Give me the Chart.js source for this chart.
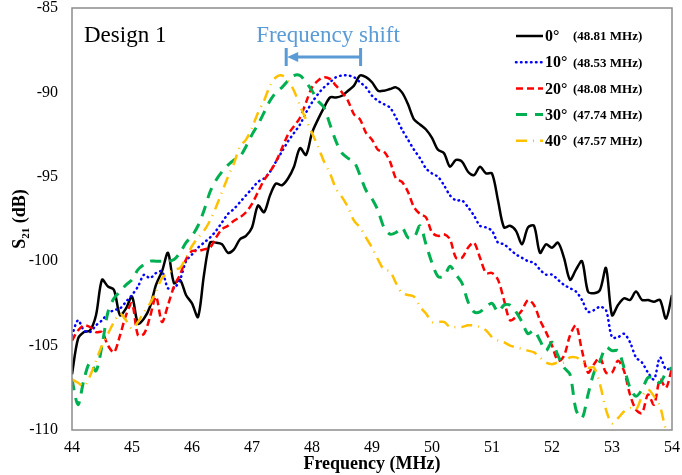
<!DOCTYPE html>
<html>
<head>
<meta charset="utf-8">
<script src="https://cdn.jsdelivr.net/npm/chart.js@4.4.0/dist/chart.umd.min.js"></script>
<style>
  html, body { margin: 0; padding: 0; background: #fff; }
</style>
</head>
<body>
<canvas id="chart" width="682" height="475"></canvas>
<script>
// frequency grid (MHz)
const freq = [
  44.0, 44.1, 44.2, 44.3, 44.4, 44.5, 44.6, 44.7, 44.8, 44.9,
  45.0, 45.1, 45.2, 45.3, 45.4, 45.5, 45.6, 45.7, 45.8, 45.9,
  46.0, 46.1, 46.2, 46.3, 46.4, 46.5, 46.6, 46.7, 46.8, 46.9,
  47.0, 47.1, 47.2, 47.3, 47.4, 47.5, 47.6, 47.7, 47.8, 47.9,
  48.0, 48.1, 48.2, 48.3, 48.4, 48.5, 48.6, 48.7, 48.8, 48.9,
  49.0, 49.1, 49.2, 49.3, 49.4, 49.5, 49.6, 49.7, 49.8, 49.9,
  50.0, 50.1, 50.2, 50.3, 50.4, 50.5, 50.6, 50.7, 50.8, 50.9,
  51.0, 51.1, 51.2, 51.3, 51.4, 51.5, 51.6, 51.7, 51.8, 51.9,
  52.0, 52.1, 52.2, 52.3, 52.4, 52.5, 52.6, 52.7, 52.8, 52.9,
  53.0, 53.1, 53.2, 53.3, 53.4, 53.5, 53.6, 53.7, 53.8, 53.9,
  54.0
];

// S21 (dB) per angle
const s21_0 = [
  -106.7,-104.6,-104.2,-104.1,-103.2,-101.1,-101.5,-101.7,-103.2,-102.8,
  -102.1,-103.7,-103.4,-102.7,-101.4,-100.6,-99.5,-101.3,-101.1,-102.0,
  -102.5,-103.3,-100.8,-98.9,-98.9,-99.0,-99.5,-99.3,-98.7,-98.5,
  -98.0,-96.7,-97.1,-96.1,-95.4,-95.5,-95.1,-94.4,-93.3,-93.7,
  -92.4,-91.6,-90.9,-90.3,-90.3,-90.2,-89.9,-89.6,-89.0,-89.1,
  -89.4,-89.9,-89.9,-89.8,-89.7,-90.0,-90.7,-91.6,-91.9,-92.2,
  -92.7,-93.4,-93.6,-94.4,-94.0,-94.1,-94.7,-94.9,-94.4,-94.8,
  -94.8,-96.4,-98.0,-97.9,-98.2,-99.0,-98.0,-97.9,-99.5,-99.0,
  -99.2,-98.9,-99.8,-101.1,-100.5,-100.0,-101.8,-101.9,-101.7,-100.4,
  -103.2,-102.6,-102.2,-102.3,-101.8,-102.3,-102.3,-102.4,-102.3,-103.4,
  -102.0
];
const s21_10 = [
  -104.4,-103.5,-104.1,-104.2,-103.8,-103.5,-103.1,-102.9,-102.8,-102.4,
  -102.0,-101.5,-100.8,-101.0,-100.7,-100.6,-101.6,-101.6,-101.1,-100.0,
  -99.6,-99.2,-98.9,-98.6,-98.2,-97.7,-97.2,-96.9,-96.5,-96.1,
  -95.7,-95.3,-95.1,-94.7,-94.1,-93.5,-92.9,-92.4,-91.9,-91.2,
  -90.6,-90.1,-89.7,-89.4,-89.1,-89.0,-89.0,-89.1,-89.4,-89.7,
  -90.2,-90.5,-90.7,-90.9,-91.5,-92.2,-92.8,-93.4,-93.9,-94.5,
  -94.8,-95.0,-95.5,-96.1,-96.4,-96.4,-96.8,-97.3,-97.9,-98.0,
  -98.2,-98.9,-99.0,-99.3,-99.6,-99.8,-100.0,-100.1,-100.5,-100.8,
  -100.8,-101.1,-101.4,-101.6,-101.8,-102.3,-103.0,-102.9,-102.7,-102.9,
  -104.5,-104.5,-104.3,-104.8,-105.7,-106.0,-106.6,-107.0,-105.7,-106.4,
  -106.3
];
const s21_20 = [
  -104.7,-104.1,-103.8,-103.9,-104.2,-104.2,-105.0,-105.4,-104.4,-103.2,
  -102.5,-104.4,-104.3,-103.3,-102.1,-103.6,-102.6,-101.5,-100.8,-99.9,
  -99.4,-99.4,-99.3,-99.2,-98.6,-98.1,-97.9,-97.6,-97.4,-97.1,
  -96.6,-95.9,-95.2,-94.7,-94.1,-93.3,-92.5,-92.0,-91.5,-90.6,
  -89.7,-89.3,-89.1,-89.2,-89.6,-90.0,-90.5,-91.3,-91.6,-92.4,
  -92.8,-93.4,-93.5,-94.1,-95.1,-95.3,-95.9,-96.8,-97.2,-97.4,
  -98.3,-98.5,-98.4,-98.7,-99.8,-99.8,-99.2,-98.9,-99.8,-100.7,
  -100.7,-101.1,-102.3,-103.5,-103.3,-102.9,-102.3,-102.6,-103.5,-104.2,
  -105.0,-105.9,-105.6,-104.4,-103.8,-105.3,-106.6,-106.1,-105.7,-106.6,
  -106.6,-105.9,-106.5,-107.9,-108.8,-109.0,-107.9,-108.5,-107.0,-107.5,
  -106.3
];
const s21_30 = [
  -107.0,-108.5,-107.0,-106.0,-106.5,-105.0,-103.0,-102.2,-101.8,-101.4,
  -101.1,-100.5,-100.2,-100.0,-100.0,-100.0,-100.0,-99.9,-99.5,-98.9,
  -98.5,-97.9,-97.0,-95.9,-95.2,-94.7,-94.3,-94.0,-93.8,-93.2,
  -92.5,-91.9,-91.2,-90.5,-90.0,-89.7,-89.3,-89.0,-89.0,-89.4,
  -89.9,-90.5,-90.9,-91.9,-92.9,-93.6,-93.9,-94.1,-94.9,-95.8,
  -96.3,-97.0,-98.0,-98.4,-98.3,-98.0,-98.6,-98.6,-97.9,-99.0,
  -100.1,-100.9,-100.9,-100.3,-100.8,-101.3,-102.4,-103.0,-103.0,-102.7,
  -102.5,-103.0,-102.6,-102.6,-103.0,-103.6,-104.3,-104.1,-104.7,-105.3,
  -104.8,-105.6,-106.3,-106.7,-108.8,-109.3,-107.9,-106.6,-105.9,-105.1,
  -105.3,-105.3,-106.3,-107.5,-108.0,-107.6,-106.9,-106.9,-107.2,-106.6,
  -106.3
];
const s21_40 = [
  -107.0,-107.2,-107.4,-106.8,-105.9,-105.0,-104.3,-103.6,-103.1,-103.5,
  -104.0,-103.6,-103.0,-102.5,-101.8,-101.0,-100.7,-100.5,-100.4,-99.8,
  -99.1,-98.6,-98.2,-97.6,-96.8,-95.9,-95.0,-94.2,-93.2,-92.8,
  -92.1,-91.2,-90.5,-89.6,-89.1,-89.0,-89.3,-89.9,-90.8,-91.6,
  -92.4,-93.2,-94.1,-94.8,-95.7,-96.2,-96.8,-97.6,-98.0,-98.6,
  -99.2,-99.9,-100.5,-100.6,-101.3,-101.9,-102.0,-102.1,-102.7,-103.1,
  -103.6,-103.6,-103.6,-103.9,-103.9,-103.9,-103.8,-103.8,-103.9,-104.1,
  -104.5,-104.7,-104.8,-105.0,-105.1,-105.2,-105.3,-105.4,-105.7,-106.0,
  -106.1,-106.0,-106.0,-105.7,-105.7,-105.9,-106.3,-106.3,-107.3,-108.8,
  -109.6,-109.3,-108.9,-108.7,-108.8,-108.0,-107.6,-108.0,-108.6,-110.0,
  -110.6
];

const angles = ["0°", "10°", "20°", "30°", "40°"];
const peaks = ["(48.81 MHz)", "(48.53 MHz)", "(48.08 MHz)", "(47.74 MHz)", "(47.57 MHz)"];
const shiftFrom = 48.81;
const shiftTo = 47.57;

const allSeries = [s21_0, s21_10, s21_20, s21_30, s21_40];
const colors = ["#000000", "#0000ff", "#ff0000", "#00b050", "#ffc000"];
const dashes = [[], [0.5, 4.5], [7, 4], [11, 8], [11, 6, 1, 6]];
const widths = [2.5, 2.5, 2.5, 3, 2.5];

const SERIF = "'Liberation Serif', 'Times New Roman', serif";

const datasets = allSeries.map((vals, i) => ({
  label: angles[i],
  data: vals.map((v, k) => ({ x: freq[k], y: v })),
  borderColor: colors[i],
  borderWidth: widths[i],
  borderDash: dashes[i],
  borderCapStyle: i === 1 ? "round" : "butt",
  pointRadius: 0,
  tension: 0.3,
  fill: false
}));
// black ends up drawn on top
datasets.reverse();

const decor = {
  id: "decor",
  afterDraw(chart) {
    const { ctx, chartArea: a, scales } = chart;
    ctx.save();

    // frame
    ctx.strokeStyle = "#8c8c8c";
    ctx.lineWidth = 1.5;
    ctx.setLineDash([]);
    ctx.strokeRect(a.left, a.top, a.right - a.left, a.bottom - a.top);

    // Design 1
    ctx.fillStyle = "#000";
    ctx.font = "23px " + SERIF;
    ctx.textAlign = "left";
    ctx.textBaseline = "alphabetic";
    ctx.fillText("Design 1", 84, 42);

    // frequency shift arrow
    const blue = "#5b9bd5";
    const x1 = scales.x.getPixelForValue(shiftFrom);
    const x0 = scales.x.getPixelForValue(shiftTo);
    const ya = scales.y.getPixelForValue(-87.9);
    ctx.fillStyle = blue;
    ctx.font = "23px " + SERIF;
    ctx.textAlign = "center";
    ctx.fillText("Frequency shift", 328, 42);
    ctx.strokeStyle = blue;
    ctx.lineWidth = 3;
    ctx.beginPath();
    ctx.moveTo(x0 + 8, ya); ctx.lineTo(x1, ya);
    ctx.moveTo(x0, ya - 9); ctx.lineTo(x0, ya + 9);
    ctx.moveTo(x1, ya - 9); ctx.lineTo(x1, ya + 9);
    ctx.stroke();
    ctx.beginPath();
    ctx.moveTo(x0 + 1, ya);
    ctx.lineTo(x0 + 12, ya - 5);
    ctx.lineTo(x0 + 12, ya + 5);
    ctx.closePath();
    ctx.fill();

    // legend
    for (let i = 0; i < angles.length; i++) {
      const y = 36 + i * 26.2;
      ctx.strokeStyle = colors[i];
      ctx.lineWidth = widths[i];
      ctx.setLineDash(dashes[i]);
      ctx.lineCap = i === 1 ? "round" : "butt";
      ctx.beginPath();
      ctx.moveTo(516, y);
      ctx.lineTo(543, y);
      ctx.stroke();
      ctx.setLineDash([]);
      ctx.fillStyle = "#000";
      ctx.textAlign = "left";
      ctx.textBaseline = "middle";
      ctx.font = "bold 16px " + SERIF;
      ctx.fillText(angles[i], 545, y + 1);
      ctx.font = "bold 13px " + SERIF;
      ctx.fillText(peaks[i], 573, y + 1);
    }

    // x title
    ctx.fillStyle = "#000";
    ctx.font = "bold 18px " + SERIF;
    ctx.textAlign = "center";
    ctx.textBaseline = "middle";
    ctx.fillText("Frequency (MHz)", (a.left + a.right) / 2, 464);

    // y title with subscript
    ctx.translate(19, (a.top + a.bottom) / 2);
    ctx.rotate(-Math.PI / 2);
    ctx.textAlign = "left";
    ctx.textBaseline = "alphabetic";
    const big = "bold 18px " + SERIF, small = "bold 11px " + SERIF;
    ctx.font = big; const wS = ctx.measureText("S").width;
    const wT = ctx.measureText(" (dB)").width;
    ctx.font = small; const wSub = ctx.measureText("21").width;
    let x = -(wS + wSub + wT) / 2;
    ctx.font = big; ctx.fillText("S", x, 6); x += wS;
    ctx.font = small; ctx.fillText("21", x, 10); x += wSub;
    ctx.font = big; ctx.fillText(" (dB)", x, 6);

    ctx.restore();
  }
};

new Chart(document.getElementById("chart"), {
  type: "line",
  data: { datasets },
  options: {
    responsive: false,
    animation: false,
    layout: { padding: { top: 8, right: 10, left: 0, bottom: 0 } },
    plugins: { legend: { display: false }, tooltip: { enabled: false } },
    scales: {
      x: {
        type: "linear",
        min: 44, max: 54,
        ticks: { stepSize: 1, color: "#000", padding: 8, font: { family: SERIF, size: 16 } },
        grid: { display: false, drawTicks: false },
        border: { display: false },
        afterFit: s => { s.height = 45; s.paddingLeft = 0; s.paddingRight = 0; }
      },
      y: {
        min: -110, max: -85,
        ticks: { stepSize: 5, color: "#000", padding: 14, font: { family: SERIF, size: 16 } },
        grid: { display: false, drawTicks: false },
        border: { display: false },
        afterFit: s => { s.width = 72; s.paddingTop = 0; s.paddingBottom = 0; }
      }
    }
  },
  plugins: [decor]
});
</script>
</body>
</html>
